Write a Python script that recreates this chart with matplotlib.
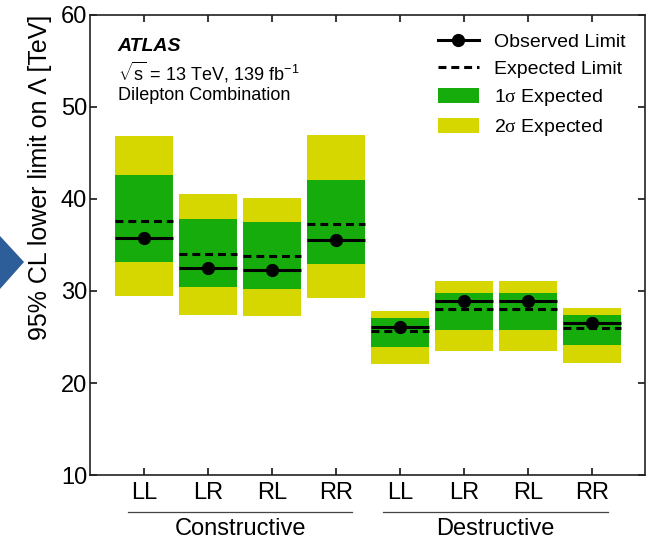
import matplotlib
matplotlib.use("Agg")
import matplotlib.pyplot as plt
import matplotlib.transforms as mtransforms
from matplotlib.lines import Line2D
from matplotlib.patches import Patch, Polygon
import numpy as np

# Chirality channels, grouped by interference type
channels = ["LL", "LR", "RL", "RR", "LL", "LR", "RL", "RR"]
groups = ["Constructive", "Destructive"]

# Lower limits on Lambda [TeV]
observed = [35.8, 32.5, 32.3, 35.5, 26.1, 28.9, 28.9, 26.5]
expected = [37.6, 34.0, 33.8, 37.3, 25.65, 28.0, 28.0, 25.95]
one_sigma_lo = [33.1, 30.4, 30.2, 32.9, 23.95, 25.8, 25.8, 24.15]
one_sigma_hi = [42.6, 37.8, 37.5, 42.1, 27.05, 29.8, 29.8, 27.4]
two_sigma_lo = [29.5, 27.4, 27.25, 29.25, 22.05, 23.5, 23.45, 22.2]
two_sigma_hi = [46.8, 40.5, 40.1, 46.95, 27.85, 31.05, 31.05, 28.2]

plt.rcParams["font.family"] = ["Liberation Sans", "DejaVu Sans"]
plt.rcParams["mathtext.fontset"] = "custom"
plt.rcParams["mathtext.rm"] = "Liberation Sans"
plt.rcParams["mathtext.it"] = "Liberation Serif"
plt.rcParams["mathtext.bf"] = "Liberation Sans:bold"

GREEN = "#16ad0c"
YELLOW = "#d6d600"

fig = plt.figure(figsize=(6.52, 5.42), dpi=100)
ax = fig.add_axes([90 / 652, 1 - 475 / 542, 555 / 652, 460 / 542])

x = np.arange(len(channels))
w = 0.9
obs = np.array(observed)
exp_ = np.array(expected)
s1lo, s1hi = np.array(one_sigma_lo), np.array(one_sigma_hi)
s2lo, s2hi = np.array(two_sigma_lo), np.array(two_sigma_hi)

ax.bar(x, s2hi - s2lo, bottom=s2lo, width=w, color=YELLOW, linewidth=0, zorder=1)
ax.bar(x, s1hi - s1lo, bottom=s1lo, width=w, color=GREEN, linewidth=0, zorder=2)
ax.hlines(exp_, x - w / 2, x + w / 2, colors="black", linewidth=2.2,
          linestyles=(0, (2.6, 1.6)), zorder=3)
ax.hlines(obs, x - w / 2, x + w / 2, colors="black", linewidth=2.2, zorder=4)
ax.plot(x, obs, "o", color="black", markersize=8.5, zorder=5)

ax.set_xlim(-0.845, 7.83)
ax.set_ylim(10, 60)
ax.set_yticks([10, 20, 30, 40, 50, 60])
ax.set_xticks(x)
ax.set_xticklabels(channels)
ax.tick_params(axis="both", direction="in", top=True, right=True,
               length=5, width=1.1, labelsize=17)
ax.tick_params(axis="x", pad=5)
ax.tick_params(axis="y", pad=2)
for sp in ax.spines.values():
    sp.set_linewidth(1.2)
    sp.set_color("#222222")

ax.set_ylabel("95% CL lower limit on Λ [TeV]", fontsize=18, loc="top")
ax.yaxis.set_label_coords(-0.068, 1.0)

# Group brackets below the channel labels
trans = mtransforms.blended_transform_factory(ax.transData, ax.transAxes)
for (x0, x1), name in zip([(-0.25, 3.25), (3.73, 7.25)], groups):
    ax.add_line(Line2D([x0, x1], [-0.08, -0.08], transform=trans,
                       color="#444444", linewidth=0.9, clip_on=False))
    ax.text((x0 + x1) / 2, -0.117, name, transform=trans, ha="center",
            va="center", fontsize=17)

ax.text(0.05, 0.932, "ATLAS", transform=ax.transAxes, fontsize=14,
        fontweight="bold", fontstyle="italic", va="center")
ax.text(0.05, 0.875, r"$\sqrt{\mathrm{s}}$ = 13 TeV, 139 fb$^{\mathrm{-1}}$",
        transform=ax.transAxes, fontsize=13, va="center")
ax.text(0.05, 0.825, "Dilepton Combination", transform=ax.transAxes,
        fontsize=13, va="center")

handles = [
    Line2D([], [], color="black", linewidth=2.2, marker="o", markersize=8.5),
    Line2D([], [], color="black", linewidth=2.2, linestyle=(0, (2.6, 1.6))),
    Patch(facecolor=GREEN, edgecolor="none"),
    Patch(facecolor=YELLOW, edgecolor="none"),
]
labels = ["Observed Limit", "Expected Limit", r"1$\sigma$ Expected",
          r"2$\sigma$ Expected"]
ax.legend(handles, labels, loc="upper left", bbox_to_anchor=(0.627, 0.962),
          frameon=False, fontsize=14, handlelength=2.1, handleheight=0.8,
          handletextpad=0.8, labelspacing=0.47, borderpad=0, borderaxespad=0)

# Slide pointer on the left edge
fig.patches.append(Polygon([[0, 1 - 236 / 542], [24 / 652, 1 - 262 / 542],
                            [0, 1 - 289 / 542]], closed=True,
                           transform=fig.transFigure, facecolor="#2d5e99",
                           edgecolor="none"))

fig.savefig("out.png", dpi=100)
